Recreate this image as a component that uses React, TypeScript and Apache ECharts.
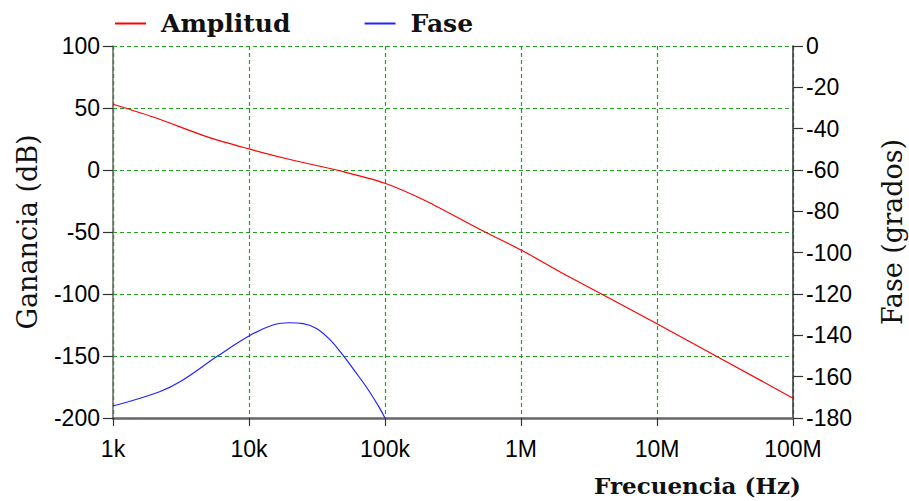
import React, { useEffect, useRef } from "react";
import * as echarts from "echarts";

const ampFreq = [1e3, 2e3, 5e3, 1e4, 2e4, 5e4, 1e5, 2e5, 5e5, 1e6, 2e6, 1e7, 1e8];
const ampDb = [53, 42.5, 26.5, 17, 8.5, -1.5, -10.7, -25, -48, -64.5, -83, -124, -184];

const phaseFreq = [1e3, 2.2e3, 3.2e3, 5.8e3, 1e4, 1.5e4, 2e4, 2.5e4, 3.16e4, 4e4, 5e4, 6e4, 7.4e4, 9e4, 1e5];
const phaseDeg = [-174.2, -167.3, -162, -150.3, -140.3, -135, -133.9, -134.3, -136.8, -142.6, -150.3, -157.3, -165.6, -174.5, -180];

const seriesNames = ["Amplitud", "Fase"];
const xAxisName = "Frecuencia (Hz)";
const leftAxisName = "Ganancia (dB)";
const rightAxisName = "Fase (grados)";

const tickFont = "'Liberation Sans', Arial, sans-serif";
const serif = "'DejaVu Serif', serif";

function freqLabel(v: number): string {
  if (v >= 1e6) return Math.round(v / 1e6) + "M";
  return Math.round(v / 1e3) + "k";
}

export default function App() {
  const ref = useRef<HTMLDivElement>(null);
  useEffect(() => {
    if (!ref.current) return;
    const chart = echarts.init(ref.current, null, { renderer: "svg" });
    const grid = { type: [4, 3], color: "#22a022", width: 1.2 };
    chart.setOption({
      animation: false,
      backgroundColor: "#ffffff",
      grid: { left: 113, right: 116, top: 46, bottom: 83, containLabel: false, outerBoundsMode: "none" },
      legend: {
        data: seriesNames,
        left: 110,
        top: 6,
        itemWidth: 31,
        itemHeight: 2,
        itemGap: 74,
        icon: "rect",
        textStyle: {
          fontFamily: serif,
          fontWeight: "bold",
          fontSize: 25,
          color: "#111",
          padding: [0, 0, 0, 10],
        },
      },
      xAxis: {
        type: "log",
        logBase: 10,
        min: 1e3,
        max: 1e8,
        name: xAxisName,
        nameLocation: "end",
        nameGap: 8,
        nameTextStyle: {
          fontFamily: serif,
          fontWeight: "bold",
          fontSize: 23,
          color: "#111",
          align: "right",
          verticalAlign: "top",
          padding: [56, 0, 0, 0],
        },
        axisLine: { show: true, onZero: false, lineStyle: { color: "#666", width: 2.5 } },
        axisTick: { show: true, length: 8, lineStyle: { color: "#333", width: 1.2 } },
        axisLabel: {
          formatter: freqLabel,
          fontFamily: tickFont,
          fontSize: 23,
          color: "#000",
          margin: 19,
        },
        splitLine: { show: true, lineStyle: grid },
        minorTick: { show: false },
      },
      yAxis: [
        {
          type: "value",
          min: -200,
          max: 100,
          interval: 50,
          position: "left",
          name: leftAxisName,
          nameLocation: "middle",
          nameRotate: 90,
          nameGap: 72,
          nameTextStyle: { fontFamily: serif, fontSize: 27, color: "#111" },
          axisLine: { show: true, onZero: false, lineStyle: { color: "#666", width: 1.5 } },
          axisTick: { show: true, length: 10, lineStyle: { color: "#333", width: 1.2 } },
          axisLabel: { fontFamily: tickFont, fontSize: 23, color: "#000", margin: 13 },
          splitLine: { show: true, lineStyle: grid },
        },
        {
          type: "value",
          min: -180,
          max: 0,
          interval: 20,
          position: "right",
          name: rightAxisName,
          nameLocation: "middle",
          nameRotate: 90,
          nameGap: 86,
          nameTextStyle: { fontFamily: serif, fontSize: 27, color: "#111" },
          axisLine: { show: true, onZero: false, lineStyle: { color: "#333", width: 1.5 } },
          axisTick: { show: true, length: 10, lineStyle: { color: "#333", width: 1.2 } },
          axisLabel: { fontFamily: tickFont, fontSize: 23, color: "#000", margin: 13 },
          splitLine: { show: false },
        },
      ],
      series: [
        {
          name: seriesNames[0],
          type: "line",
          yAxisIndex: 0,
          data: ampFreq.map((f, i) => [f, ampDb[i]]),
          smooth: 0.3,
          showSymbol: false,
          symbol: "none",
          lineStyle: { color: "#ff0000", width: 1.2 },
          itemStyle: { color: "#ff0000" },
        },
        {
          name: seriesNames[1],
          type: "line",
          yAxisIndex: 1,
          data: phaseFreq.map((f, i) => [f, phaseDeg[i]]),
          smooth: 0.4,
          showSymbol: false,
          symbol: "none",
          lineStyle: { color: "#2222ff", width: 1.2 },
          itemStyle: { color: "#2222ff" },
        },
      ],
    });
    return () => chart.dispose();
  }, []);
  return <div ref={ref} style={{ width: 909, height: 501, position: "absolute", left: 0, top: 0 }} />;
}
